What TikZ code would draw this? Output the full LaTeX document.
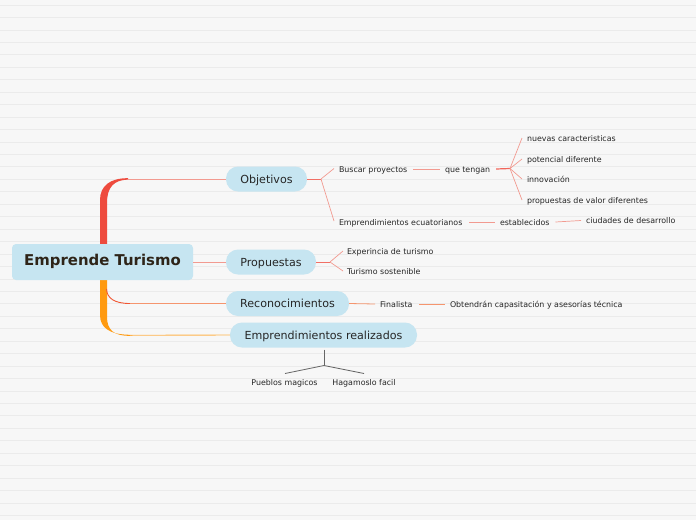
\documentclass[tikz,border=0pt]{standalone}
\usepackage{fontspec}
\setmainfont{DejaVu Sans}
\begin{document}
\begin{tikzpicture}[x=1pt,y=-1pt,
  every node/.style={inner sep=0pt, outer sep=0pt},
  pill/.style={fill=pillblue, rounded corners=12pt, minimum height=25pt, font=\fontsize{11.1}{13}\selectfont, text=black!85, text height=1.8ex, text depth=.25ex},
  leaf/.style={font=\fontsize{7.9}{9}\selectfont, text=black!85, anchor=west, text height=1.5ex, text depth=.25ex},
  subleaf/.style={font=\fontsize{7.9}{9}\selectfont, text=black!85, text height=1.5ex, text depth=.25ex},
  link/.style={draw=linkred, line width=0.7pt},
  gray link/.style={draw=black!60, line width=0.8pt}
]
\definecolor{bg}{HTML}{F7F7F7}
\definecolor{gridline}{HTML}{EBEBEB}
\definecolor{pillblue}{HTML}{C6E5F1}
\definecolor{linkred}{HTML}{F29A90}
\definecolor{branchred}{HTML}{EE4B3E}
\definecolor{branchorange}{HTML}{FF9A10}
\definecolor{reclink}{HTML}{F5956E}
\definecolor{rootText}{HTML}{2E2418}
\useasboundingbox (0,0) rectangle (696,520);
\fill[bg] (0,0) rectangle (696,520);
\foreach \i in {0,...,41} {
  \draw[gridline, line width=0.8pt] (0,{5+12.45*\i}) -- (696,{5+12.45*\i});
}

% thick branches
\fill[branchred] (100,250) -- (100,200) .. controls (100,186) and (110,178) .. (128,178.2)
  -- (128,179.6) .. controls (114,180) and (107,187) .. (107,203) -- (107,250) -- cycle;
\fill[branchorange] (100,272) -- (100,315) .. controls (100,328) and (110,334.6) .. (130,334.8)
  -- (130,335.8) .. controls (114,336) and (107,330) .. (107,317) -- (107,272) -- cycle;
\draw[draw=branchred!80!orange, line width=0.9pt] (106.5,289) .. controls (107,298) and (114,303.5) .. (130,303.5);

% root
\node[fill=pillblue, rounded corners=4pt, minimum width=181pt, minimum height=36pt,
  font=\fontsize{14.9}{17}\bfseries\selectfont, text=rootText, text height=1.6ex, text depth=.25ex] (root) at (102.5,262) {Emprende Turismo};

% main topics
\node[pill, minimum width=81pt] (obj) at (266.5,179) {Objetivos};
\node[pill, minimum width=90pt] (prop) at (271,262) {Propuestas};
\node[pill, minimum width=123pt] (rec) at (287.5,303.5) {Reconocimientos};
\node[pill, minimum width=187pt] (emp) at (323.5,335) {Emprendimientos realizados};

\coordinate (rt) at (128,179);
\coordinate (ro) at (130,335.3);
\coordinate (rr) at (130,303.5);
\draw[link] (rt) -- (obj.west);
\draw[draw=branchorange!75, line width=0.9pt] (ro) -- (emp.west);
\draw[draw=reclink, line width=0.7pt] (rr) -- (rec.west);
\draw[link] (root.east |- prop.west) -- (prop.west);

% Objetivos subtree
\node[leaf] (bus) at (339,169) {Buscar proyectos};
\node[leaf] (ecu) at (339,222) {Emprendimientos ecuatorianos};
\coordinate (f1) at (321,179);
\draw[link, draw=branchred!80] (obj.east) -- (f1);
\draw[link] (f1) -- (334,168.5);
\draw[link] (f1) -- (334,221);

\node[leaf] (que) at (445,169) {que tengan};
\draw[link] ([xshift=6pt]bus.east) -- ([xshift=-5pt]que.west);
\coordinate (f2) at (510,168.5);
\draw[draw=branchred!85, line width=1.2pt] ([xshift=6pt]que.east) -- (f2);
\node[leaf] (n1) at (527,138) {nuevas caracteristicas};
\node[leaf] (n2) at (527,159) {potencial diferente};
\node[leaf] (n3) at (527,179) {innovación};
\node[leaf] (n4) at (527,200) {propuestas de valor diferentes};
\foreach \n in {n1,n2,n3,n4} { \draw[link] (f2) -- ([xshift=-5pt]\n.west); }

\node[leaf] (est) at (500,222) {establecidos};
\node[leaf] (ciu) at (586,220.5) {ciudades de desarrollo};
\draw[link] ([xshift=7pt]ecu.east) -- ([xshift=-5pt]est.west);
\draw[link] ([xshift=6pt]est.east) -- ([xshift=-5pt]ciu.west);

% Propuestas subtree
\node[leaf] (exp) at (347,251) {Experincia de turismo};
\node[leaf] (tur) at (347,271) {Turismo sostenible};
\coordinate (f3) at (330,262);
\draw[link, draw=branchred!80] (prop.east) -- (f3);
\draw[link] (f3) -- ([xshift=-4pt]exp.west);
\draw[link] (f3) -- ([xshift=-4pt]tur.west);

% Reconocimientos subtree
\node[leaf] (fin) at (380,304) {Finalista};
\node[leaf] (obt) at (450,304) {Obtendrán capasitación y asesorías técnica};
\draw[draw=reclink, line width=0.8pt] (rec.east) -- ([xshift=-5pt]fin.west);
\draw[draw=reclink, line width=0.8pt] ([xshift=7pt]fin.east) -- ([xshift=-5pt]obt.west);

% Emprendimientos realizados subtree
\node[subleaf] (pue) at (284.5,382) {Pueblos magicos};
\node[subleaf] (hag) at (364,382) {Hagamoslo facil};
\coordinate (f4) at (324,365.5);
\draw[gray link] (324,349.5) -- (f4);
\draw[gray link] (f4) -- (285,373.5);
\draw[gray link] (f4) -- (364,373.5);
\end{tikzpicture}
\end{document}
